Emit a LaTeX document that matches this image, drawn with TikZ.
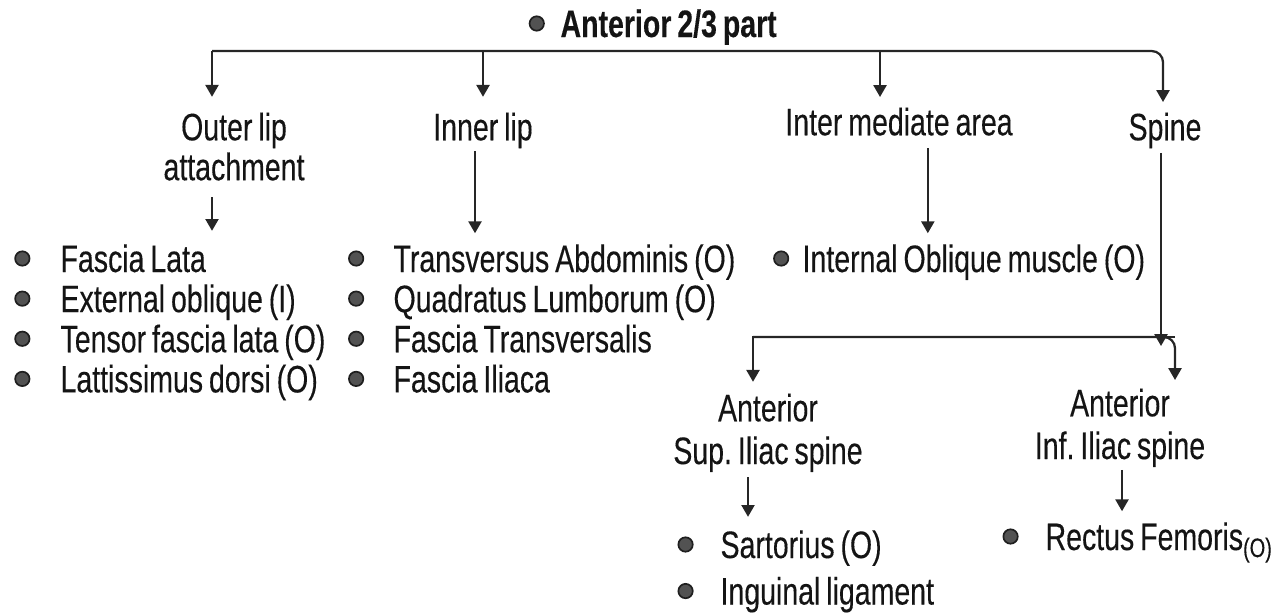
\documentclass[tikz,border=0pt]{standalone}
\usepackage{fontspec}
\setmainfont{Liberation Sans}[FakeStretch=0.745, WordSpace=0.75, FakeBold=0.25]
\frenchspacing
\usetikzlibrary{positioning, arrows.meta}

\begin{document}
\begin{tikzpicture}[
    x=0.0125cm, y=-0.0125cm,
    >={Triangle[length=4.2pt, width=4.6pt]},
    txt/.style={
        inner sep=0pt,
        font=\fontsize{13.6}{14.2}\selectfont,
        text=black!92
    },
    head/.style={
        txt,
        align=center,
        anchor=north
    },
    item/.style={
        txt,
        anchor=base west,
        text height=9.6pt,
        text depth=0pt,
        label={[dot, label distance=#1]west:{}}
    },
    item/.default=0.37cm,
    dot/.style={
        circle,
        inner sep=0pt,
        minimum size=0.18cm,
        fill=black!68,
        draw=black!88,
        line width=0.6pt
    },
    arrow/.style={
        ->,
        line width=0.8pt,
        draw=black!85,
        shorten >=#1
    },
    arrow/.default=0pt,
    line/.style={
        line width=0.8pt,
        draw=black!85
    }
]

\useasboundingbox (0,0) rectangle (1284,614);

% Title
\node[item=0.19cm, font=\fontsize{13.6}{14.2}\selectfont\bfseries] (top) at (560,37) {Anterior 2/3 part};

% First level
\node[head] (outer) at (234,112) {Outer lip\\attachment};
\node[head] (inner) at (483,112) {Inner lip};
\node[head] (inter) at (899,107) {Inter mediate area};
\node[head] (spine) at (1165,112) {Spine};

% Outer lip list
\node[item] (f1) at (60,272) {Fascia Lata};
\node[item, below=0.15cm of f1.south west, anchor=north west] (f2) {External oblique (I)};
\node[item, below=0.15cm of f2.south west, anchor=north west] (f3) {Tensor fascia lata (O)};
\node[item, below=0.15cm of f3.south west, anchor=north west] (f4) {Lattissimus dorsi (O)};

% Inner lip list
\node[item=0.36cm] (m1) at (393,272) {Transversus Abdominis (O)};
\node[item=0.36cm, below=0.15cm of m1.south west, anchor=north west] (m2) {Quadratus Lumborum (O)};
\node[item=0.36cm, below=0.15cm of m2.south west, anchor=north west] (m3) {Fascia Transversalis};
\node[item=0.36cm, below=0.15cm of m3.south west, anchor=north west] (m4) {Fascia Iliaca};

% Intermediate area
\node[item=0.16cm] (io) at (802,272) {Internal Oblique muscle (O)};

% Spines
\node[head] (asis) at (768,393) {Anterior\\[1pt]Sup. Iliac spine};
\node[head] (aiis) at (1120,388) {Anterior\\[1pt]Inf. Iliac spine};

\node[item=0.33cm] (sart) at (720,558) {Sartorius (O)};
\node[item=0.33cm, below=0.23cm of sart.south west, anchor=north west] (ing) {Inguinal ligament};
\node[item=0.33cm] (rect) at (1045,550) {Rectus Femoris{\fontsize{9.5}{9.5}\selectfont\raisebox{-2.5pt}{(O)}}};

% Top branching
\coordinate (b1) at (212,51);
\coordinate (b2) at (483,51);
\coordinate (b3) at (880,51);
\coordinate (b4) at (1163,51);
\draw[arrow=0.125cm, rounded corners=4pt] (b1) -- (b4) -- (b4 |- spine.north);
\draw[arrow=0.19cm] (b1) -- (b1 |- outer.north);
\draw[arrow=0.19cm] (b2) -- (b2 |- inner.north);
\draw[arrow=0.125cm] (b3) -- (b3 |- inter.north);

% Down to the lists
\draw[arrow=0.17cm, shorten <=0.2cm] (b1 |- outer.south) -- (b1 |- f1.north);
\draw[arrow=0.14cm, shorten <=0.03cm] ([xshift=-0.1cm]inner.south) -- ([xshift=-0.1cm]inner.south |- m1.north);
\draw[arrow=0.14cm, shorten <=0.15cm] ([xshift=0.36cm]inter.south) -- ([xshift=0.36cm]inter.south |- io.north);

% Spine branching
\coordinate (s1) at (753,337);
\coordinate (s2) at (1175,337);
\coordinate (sp) at (1161,346);
\draw[arrow, shorten <=0.05cm] (sp |- spine.south) -- (sp);
\draw[arrow=0.14cm] (s2) -- (s1) -- (s1 |- asis.north);
\draw[arrow=0.1cm, rounded corners=4pt] (s1) -- (s2) -- (s2 |- aiis.north);

\coordinate (c1) at (748,0);
\coordinate (c2) at (1122,0);
\draw[arrow=0.17cm, shorten <=0.06cm] (c1 |- asis.south) -- (c1 |- sart.north);
\draw[arrow=0.14cm, shorten <=0.03cm] (c2 |- aiis.south) -- (c2 |- rect.north);

\end{tikzpicture}
\end{document}
